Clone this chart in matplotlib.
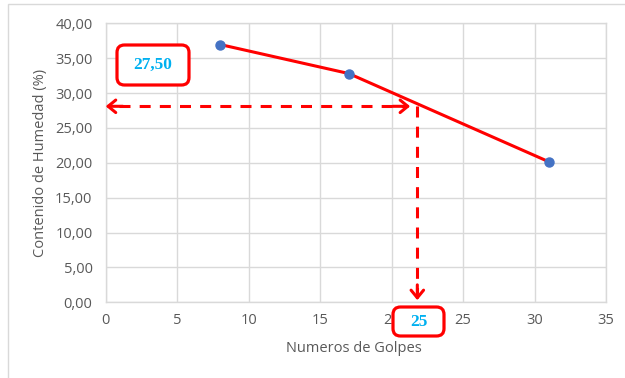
import matplotlib
matplotlib.use("Agg")
import matplotlib.pyplot as plt
from matplotlib.patches import FancyBboxPatch, Rectangle

# Ensayo de límite líquido: número de golpes vs. contenido de humedad
golpes = [8, 17, 31]
humedad = [36.96, 32.80, 20.15]

x_ticks = [0, 5, 10, 15, 20, 25, 30, 35]
y_ticks = [0, 5, 10, 15, 20, 25, 30, 35, 40]
y_tick_labels = [f"{v:.2f}".replace(".", ",") for v in y_ticks]

# Lectura gráfica del límite líquido
lectura_x = 21.8
lectura_y = 28.1
texto_humedad = "27,50"
texto_golpes = "25"

GRID = "#D9D9D9"
TXT = "#595959"
RED = "#FF0000"
BLUE_TXT = "#00B0F0"
MARK = "#4472C4"
SANS = ["Open Sans", "DejaVu Sans"]
SERIF = ["Liberation Serif", "DejaVu Serif"]

fig = plt.figure(figsize=(6.25, 3.78), dpi=100)
fig.patch.set_facecolor("white")

# chart frame
fig.patches.append(Rectangle((8 / 625, -0.05), 1.1, 1 - 4 / 378 + 0.05,
                             transform=fig.transFigure, fill=False,
                             edgecolor="#D9D9D9", linewidth=1.0))

ax = fig.add_axes([105.7 / 625, 1 - 302.3 / 378, 500.3 / 625, 279.0 / 378])
ax.set_xlim(0, 35)
ax.set_ylim(0, 40)
ax.set_xticks(x_ticks)
ax.set_yticks(y_ticks)
ax.set_yticklabels(y_tick_labels)
ax.grid(True, color=GRID, linewidth=1.0)
ax.set_axisbelow(True)
for s in ax.spines.values():
    s.set_color(GRID)
    s.set_linewidth(1.0)
ax.tick_params(length=0, colors=TXT, labelsize=10.5)
ax.tick_params(axis="x", pad=8)
ax.tick_params(axis="y", pad=9.5)
for lab in ax.get_xticklabels() + ax.get_yticklabels():
    lab.set_family(SANS)

ax.set_xlabel("Numeros de Golpes", color=TXT, fontsize=10.5, family=SANS)
ax.set_ylabel("Contenido de Humedad (%)", color=TXT, fontsize=10.5, family=SANS)
ax.xaxis.set_label_coords(0.497, -0.164)
ax.xaxis.label.set_va("center")
ax.yaxis.set_label_coords(-0.13, 0.5)
ax.yaxis.label.set_va("center")

ax.plot(golpes, humedad, color=RED, linewidth=2.2, zorder=3,
        marker="o", markersize=6.5, markerfacecolor=MARK, markeredgecolor=MARK)

# dashed guides with open arrowheads
dash_kw = dict(color=RED, linewidth=2.2, dashes=(3.6, 3.0), zorder=4, clip_on=False)
ax.plot([0.9, lectura_x - 0.7], [lectura_y, lectura_y], **dash_kw)
ax.plot([lectura_x, lectura_x], [lectura_y, 1.3], **dash_kw)

head = dict(arrowstyle="->,head_length=0.55,head_width=0.45", color=RED,
            linewidth=2.2, shrinkA=0, shrinkB=0)
ax.annotate("", xy=(0.0, lectura_y), xytext=(1.2, lectura_y), arrowprops=head, zorder=5)
ax.annotate("", xy=(lectura_x - 0.5, lectura_y), xytext=(lectura_x - 1.7, lectura_y),
            arrowprops=head, zorder=5)
ax.annotate("", xy=(lectura_x, 0.3), xytext=(lectura_x, 2.5), arrowprops=head, zorder=5)

# value boxes
def value_box(x0, y0, w, h, text):
    box = FancyBboxPatch((x0 / 625, 1 - (y0 + h) / 378), w / 625, h / 378,
                         boxstyle="round,pad=0,rounding_size=0.012",
                         transform=fig.transFigure, facecolor="white",
                         edgecolor=RED, linewidth=2.3, zorder=10,
                         mutation_aspect=625 / 378)
    fig.patches.append(box)
    fig.text((x0 + w / 2) / 625, 1 - (y0 + h / 2) / 378, text, color=BLUE_TXT,
             fontsize=12.5, fontweight="bold", family=SERIF,
             ha="center", va="center", zorder=11)

value_box(117, 45, 72, 40, texto_humedad)
value_box(393, 307, 51, 29, texto_golpes)

fig.savefig("out.png", dpi=100, facecolor="white")
